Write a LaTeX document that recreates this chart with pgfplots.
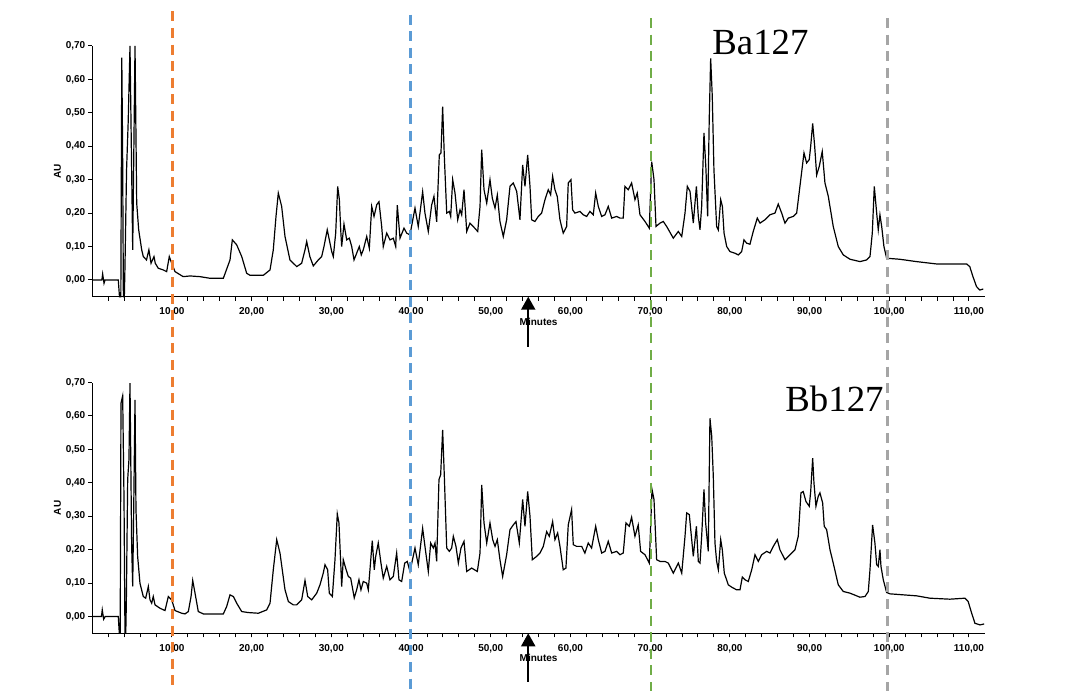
\documentclass[border=0pt]{standalone}
\usepackage{fontspec}
\setmainfont{Liberation Sans}
\newfontfamily\serifB{Liberation Serif}
\usepackage{pgfplots}
\pgfplotsset{compat=1.18}
\usetikzlibrary{arrows.meta}
\definecolor{cOr}{HTML}{ED7D31}
\definecolor{cBl}{HTML}{5B9BD5}
\definecolor{cGr}{HTML}{70AD47}
\definecolor{cGy}{HTML}{A5A5A5}
\pgfplotsset{chrom/.style={
  scale only axis, width=446.3pt, height=125.4pt,
  xmin=0, xmax=112, ymin=-0.05, ymax=0.70,
  axis x line=bottom, axis y line=left,
  axis line style={-, line width=0.5pt},
  xtick={10,20,...,110}, minor xtick={2,4,...,110},
  ytick={0,0.1,0.2,0.3,0.4,0.5,0.6,0.7},
  tick align=outside, major tick length=2pt, minor tick length=2pt,
  tick style={black, line width=0.5pt},
  ticklabel style={font=\fontsize{5}{6}\selectfont\bfseries},
  /pgf/number format/assume math mode=true,
  xticklabel style={/pgf/number format/.cd, fixed, fixed zerofill, precision=2, use comma},
  yticklabel style={xshift=2pt, /pgf/number format/.cd, fixed, fixed zerofill, precision=2, use comma},
  ylabel={AU}, ylabel style={at={(axis description cs:-0.039,0.5)}, anchor=center, font=\fontsize{5}{6}\selectfont\bfseries},
  xlabel={Minutes}, xlabel style={at={(axis description cs:0.5,-0.099)}, anchor=center, font=\fontsize{5}{6}\selectfont\bfseries},
  clip=false,
}}
\begin{document}
\begin{tikzpicture}
\path[use as bounding box] (0,0) rectangle (533.5pt,345.5pt);
\begin{axis}[chrom, at={(46.15pt,197.15pt)}, anchor=south west]
\addplot[black, line width=0.6pt] coordinates {
(0.1,0.000)(1.2,0.000)(1.3,0.018)(1.47,-0.010)(1.6,0.000)(3.26,0.000)(3.41,-0.05)(3.58,-0.05)(3.7,0.665)(3.8,0.40)(3.9,-0.05)(4.02,-0.05)(4.1,0.04)(4.3,0.33)(4.5,0.47)(4.73,0.70)(5.07,0.09)(5.36,0.70)(5.57,0.23)(5.82,0.15)(6.2,0.09)(6.4,0.07)(6.8,0.06)(7.1,0.09)(7.37,0.05)(7.74,0.07)(7.9,0.05)(8.28,0.035)(8.9,0.03)(9.33,0.025)(9.66,0.07)(9.96,0.05)(10.38,0.025)(11.4,0.01)(12.26,0.012)(13.5,0.01)(14.77,0.005)(16.44,0.005)(17.28,0.06)(17.57,0.12)(18.12,0.105)(18.75,0.07)(19.37,0.02)(19.79,0.014)(21.46,0.014)(22.3,0.03)(22.71,0.09)(23.05,0.19)(23.34,0.26)(23.76,0.22)(24.18,0.13)(24.8,0.06)(25.65,0.04)(26.27,0.05)(26.69,0.09)(26.9,0.115)(27.3,0.07)(27.73,0.042)(28.36,0.06)(28.78,0.07)(29.07,0.10)(29.48,0.15)(29.74,0.12)(30.04,0.085)(30.24,0.07)(30.54,0.14)(30.79,0.28)(31.0,0.24)(31.17,0.15)(31.29,0.10)(31.58,0.167)(31.92,0.12)(32.25,0.125)(32.55,0.10)(32.84,0.06)(33.17,0.08)(33.5,0.10)(33.75,0.075)(34.0,0.09)(34.43,0.13)(34.76,0.095)(35.06,0.22)(35.35,0.19)(35.69,0.225)(35.97,0.234)(36.31,0.16)(36.51,0.10)(36.94,0.14)(37.35,0.12)(37.77,0.125)(38.07,0.10)(38.27,0.224)(38.61,0.125)(39.11,0.155)(39.45,0.14)(39.86,0.135)(40.49,0.215)(40.9,0.16)(41.45,0.264)(41.74,0.20)(42.16,0.145)(42.58,0.224)(42.87,0.25)(43.21,0.174)(43.54,0.374)(43.75,0.38)(43.96,0.518)(44.17,0.37)(44.47,0.20)(44.8,0.205)(44.97,0.19)(45.22,0.30)(45.51,0.26)(45.85,0.18)(46.14,0.21)(46.35,0.195)(46.64,0.27)(46.98,0.145)(47.39,0.17)(47.8,0.16)(48.36,0.145)(48.65,0.22)(48.86,0.39)(49.15,0.27)(49.49,0.23)(49.9,0.30)(50.19,0.245)(50.53,0.215)(50.82,0.254)(51.15,0.175)(51.57,0.13)(51.99,0.18)(52.41,0.28)(52.82,0.29)(53.25,0.265)(53.66,0.18)(54.0,0.344)(54.29,0.28)(54.63,0.374)(54.92,0.28)(55.13,0.18)(55.54,0.175)(55.96,0.19)(56.38,0.20)(56.8,0.24)(57.21,0.27)(57.51,0.255)(57.76,0.31)(58.05,0.27)(58.34,0.25)(58.68,0.18)(59.09,0.14)(59.52,0.16)(59.72,0.29)(60.06,0.30)(60.27,0.21)(60.56,0.20)(61.19,0.205)(61.6,0.195)(62.03,0.19)(62.44,0.205)(62.86,0.195)(63.16,0.26)(63.49,0.22)(63.91,0.19)(64.33,0.195)(64.74,0.22)(65.17,0.185)(65.79,0.19)(66.21,0.185)(66.62,0.185)(66.83,0.28)(67.25,0.27)(67.67,0.29)(68.09,0.24)(68.38,0.26)(68.72,0.195)(69.35,0.175)(69.89,0.155)(70.19,0.354)(70.48,0.30)(70.73,0.16)(71.23,0.17)(71.65,0.175)(72.07,0.16)(72.9,0.125)(73.53,0.145)(73.96,0.13)(74.37,0.20)(74.66,0.28)(75.0,0.265)(75.41,0.17)(75.8,0.28)(76.04,0.19)(76.25,0.15)(76.46,0.22)(76.75,0.44)(77.0,0.33)(77.21,0.19)(77.41,0.48)(77.59,0.663)(77.79,0.55)(78.0,0.33)(78.34,0.16)(78.55,0.15)(78.85,0.24)(79.06,0.22)(79.27,0.14)(79.6,0.10)(80.01,0.085)(80.64,0.08)(81.06,0.075)(81.48,0.085)(81.77,0.12)(82.11,0.11)(82.52,0.107)(82.93,0.145)(83.44,0.185)(83.78,0.17)(84.4,0.18)(85.03,0.195)(85.66,0.20)(86.07,0.227)(86.5,0.20)(86.91,0.17)(87.33,0.185)(87.95,0.19)(88.38,0.20)(88.79,0.28)(89.3,0.38)(89.63,0.35)(89.96,0.36)(90.14,0.40)(90.39,0.468)(90.64,0.40)(90.89,0.314)(91.22,0.34)(91.59,0.384)(91.93,0.29)(92.35,0.25)(92.97,0.16)(93.6,0.10)(94.23,0.075)(95.07,0.062)(96.32,0.055)(97.16,0.06)(97.58,0.07)(97.87,0.14)(98.12,0.28)(98.42,0.20)(98.62,0.15)(98.83,0.195)(99.05,0.16)(99.33,0.10)(99.67,0.065)(101.3,0.062)(103.4,0.055)(105.9,0.048)(109.7,0.048)(110.1,0.04)(110.5,0.01)(110.95,-0.02)(111.36,-0.03)(111.8,-0.027)
};
\draw[-{Triangle[length=6.5pt,width=7pt]}, line width=1pt] (axis cs:54.7,-0.20) -- (axis cs:54.7,-0.05);
\end{axis}
\begin{axis}[chrom, at={(46.15pt,28.85pt)}, anchor=south west]
\addplot[black, line width=0.6pt] coordinates {
(0.1,0.000)(1.15,0.000)(1.25,0.02)(1.43,-0.008)(1.6,0.000)(3.26,0.000)(3.39,-0.05)(3.5,-0.05)(3.6,0.638)(3.81,0.66)(3.98,0.35)(4.1,-0.05)(4.2,-0.05)(4.27,0.04)(4.44,0.41)(4.6,0.47)(4.73,0.698)(4.94,0.21)(5.07,0.09)(5.19,0.31)(5.36,0.648)(5.48,0.32)(5.69,0.18)(5.98,0.10)(6.4,0.06)(6.7,0.055)(7.03,0.09)(7.24,0.05)(7.45,0.04)(7.65,0.06)(7.87,0.035)(8.49,0.025)(9.12,0.018)(9.54,0.06)(9.96,0.05)(10.38,0.018)(11.22,0.01)(11.63,0.008)(12.05,0.015)(12.39,0.06)(12.6,0.108)(12.89,0.07)(13.3,0.015)(13.93,0.008)(16.44,0.008)(16.86,0.03)(17.28,0.065)(17.7,0.06)(18.12,0.04)(18.75,0.015)(19.57,0.012)(20.83,0.01)(21.88,0.02)(22.3,0.04)(22.71,0.14)(23.14,0.23)(23.55,0.19)(24.18,0.08)(24.6,0.045)(25.22,0.035)(25.65,0.035)(26.27,0.05)(26.69,0.108)(27.03,0.06)(27.53,0.05)(28.16,0.07)(28.57,0.095)(28.98,0.13)(29.2,0.155)(29.53,0.14)(29.74,0.07)(30.12,0.06)(30.45,0.17)(30.74,0.307)(30.95,0.28)(31.17,0.16)(31.29,0.09)(31.49,0.17)(31.79,0.145)(32.12,0.12)(32.42,0.115)(32.87,0.056)(33.17,0.08)(33.46,0.11)(33.71,0.08)(34.0,0.105)(34.43,0.10)(34.63,0.08)(34.84,0.14)(35.13,0.227)(35.38,0.14)(35.56,0.18)(35.88,0.22)(36.22,0.16)(36.51,0.115)(36.94,0.15)(37.35,0.11)(37.77,0.12)(38.19,0.19)(38.48,0.11)(38.82,0.105)(39.2,0.16)(39.52,0.165)(39.86,0.135)(40.49,0.205)(40.9,0.155)(41.45,0.264)(41.74,0.21)(42.16,0.135)(42.46,0.22)(42.79,0.205)(43.0,0.22)(43.21,0.165)(43.5,0.41)(43.71,0.424)(43.96,0.558)(44.17,0.42)(44.47,0.205)(44.8,0.195)(45.09,0.205)(45.3,0.24)(45.63,0.21)(45.93,0.16)(46.26,0.205)(46.64,0.225)(46.98,0.135)(47.6,0.145)(48.31,0.135)(48.65,0.19)(48.86,0.394)(49.15,0.28)(49.49,0.22)(49.9,0.28)(50.24,0.23)(50.53,0.21)(50.82,0.23)(51.15,0.17)(51.49,0.12)(51.99,0.185)(52.41,0.26)(52.82,0.274)(53.16,0.284)(53.58,0.22)(54.0,0.35)(54.29,0.27)(54.63,0.374)(54.92,0.30)(55.21,0.17)(55.76,0.18)(56.17,0.19)(56.59,0.21)(57.01,0.254)(57.34,0.24)(57.76,0.284)(58.05,0.23)(58.39,0.25)(58.68,0.21)(59.09,0.14)(59.43,0.145)(59.72,0.274)(60.14,0.32)(60.35,0.215)(60.77,0.21)(61.4,0.21)(61.81,0.19)(62.23,0.22)(62.65,0.205)(63.16,0.27)(63.49,0.23)(63.91,0.19)(64.33,0.195)(64.74,0.225)(65.17,0.19)(65.79,0.195)(66.21,0.185)(66.62,0.19)(66.96,0.28)(67.38,0.27)(67.67,0.297)(68.09,0.24)(68.5,0.274)(68.8,0.195)(69.35,0.185)(69.89,0.16)(70.23,0.38)(70.48,0.35)(70.81,0.17)(71.23,0.165)(71.85,0.165)(72.27,0.16)(72.9,0.13)(73.53,0.16)(73.96,0.13)(74.37,0.24)(74.58,0.31)(74.91,0.305)(75.41,0.18)(75.8,0.27)(76.04,0.165)(76.25,0.16)(76.46,0.24)(76.75,0.38)(76.96,0.28)(77.29,0.195)(77.5,0.593)(77.72,0.54)(77.92,0.42)(78.13,0.22)(78.34,0.165)(78.55,0.14)(78.85,0.23)(79.05,0.20)(79.3,0.13)(79.8,0.095)(80.23,0.088)(80.85,0.08)(81.27,0.08)(81.56,0.118)(81.9,0.11)(82.31,0.105)(82.74,0.14)(83.15,0.185)(83.57,0.165)(83.99,0.185)(84.62,0.195)(85.03,0.19)(85.45,0.21)(85.95,0.23)(86.28,0.20)(86.91,0.17)(87.54,0.185)(88.17,0.2)(88.58,0.24)(88.92,0.37)(89.2,0.374)(89.55,0.344)(89.96,0.33)(90.14,0.374)(90.39,0.474)(90.55,0.40)(90.8,0.33)(91.09,0.36)(91.3,0.37)(91.64,0.34)(91.84,0.27)(92.14,0.26)(92.56,0.20)(92.97,0.16)(93.6,0.095)(94.23,0.075)(95.07,0.07)(96.32,0.058)(96.95,0.06)(97.37,0.075)(97.58,0.14)(97.91,0.274)(98.2,0.22)(98.42,0.155)(98.62,0.15)(98.83,0.20)(98.96,0.15)(99.25,0.11)(99.67,0.072)(100.09,0.068)(103.43,0.062)(105.1,0.055)(107.6,0.052)(109.5,0.055)(109.9,0.045)(110.34,0.01)(110.75,-0.02)(111.38,-0.025)(111.9,-0.022)
};
\draw[-{Triangle[length=6.5pt,width=7pt]}, line width=1pt] (axis cs:54.7,-0.195) -- (axis cs:54.7,-0.05);
\draw[cOr, line width=1.4pt, dash pattern=on 5pt off 3.3pt] (axis cs:10.1,1.81) -- (axis cs:10.1,-0.24);
\draw[cBl, line width=1.4pt, dash pattern=on 5pt off 3.3pt] (axis cs:39.9,1.80) -- (axis cs:39.9,-0.24);
\draw[cGr, line width=1.4pt, dash pattern=on 5pt off 3.3pt] (axis cs:70.1,1.79) -- (axis cs:70.1,-0.24);
\draw[cGy, line width=1.4pt, dash pattern=on 5pt off 3.3pt] (axis cs:99.8,1.79) -- (axis cs:99.8,-0.24);
\end{axis}
\node[anchor=base west, inner sep=0pt, font=\serifB\fontsize{18.4}{20}\selectfont] at (356pt,318pt) {Ba127};
\node[anchor=base west, inner sep=0pt, font=\serifB\fontsize{18.4}{20}\selectfont] at (392.5pt,139.5pt) {Bb127};
\end{tikzpicture}
\end{document}
